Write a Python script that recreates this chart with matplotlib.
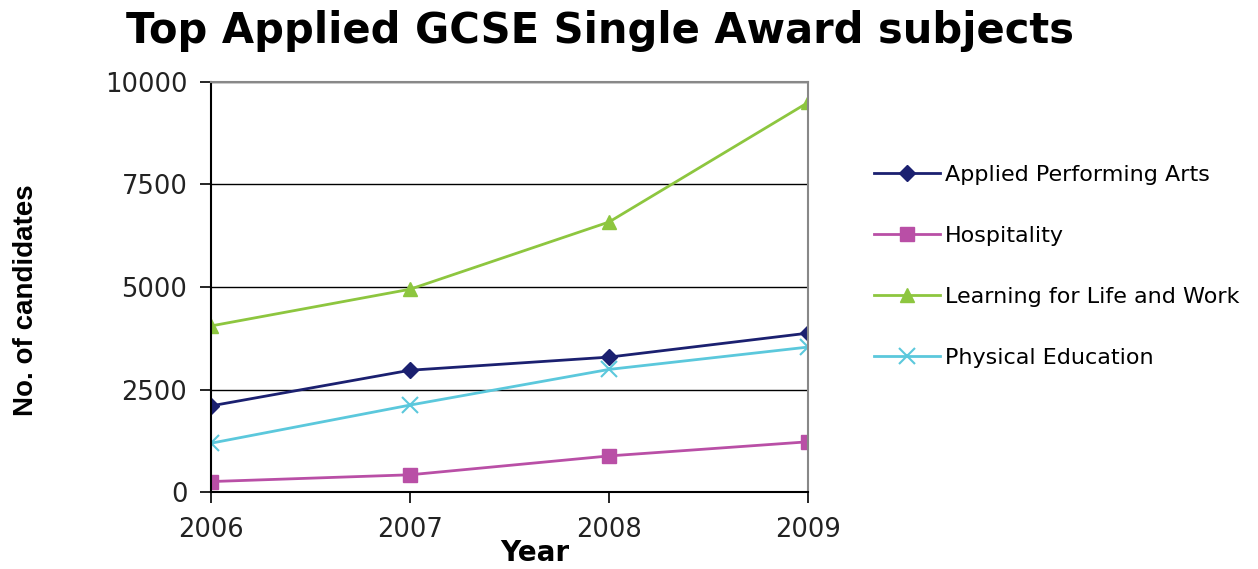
import matplotlib.pyplot as plt

years = [2006, 2007, 2008, 2009]
series_names = ["Applied Performing Arts", "Hospitality",
                "Learning for Life and Work", "Physical Education"]
perf_arts = [2100, 2970, 3290, 3875]
hospitality = [255, 420, 880, 1225]
learning = [4050, 4945, 6585, 9500]
phys_ed = [1190, 2120, 2990, 3535]

colors = ["#1b2070", "#b94fa6", "#8dc63f", "#5bc8dc"]
markers = ["D", "s", "^", "x"]
msizes = [8.5, 10, 10, 11]

fig = plt.figure(figsize=(12.58, 5.69), dpi=100)
ax = fig.add_axes([0.1677, 0.1353, 0.4746, 0.7206])

for vals, name, c, m, ms in zip([perf_arts, hospitality, learning, phys_ed],
                                series_names, colors, markers, msizes):
    ax.plot(years, vals, color=c, marker=m, markersize=ms, lw=2,
            markeredgewidth=1.5 if m == "x" else 1, label=name)

ax.set_xlim(2006, 2009)
ax.set_ylim(0, 10000)
ax.set_xticks(years)
ax.set_yticks([0, 2500, 5000, 7500, 10000])
ax.yaxis.grid(True, color="black", lw=1)
ax.set_axisbelow(True)
ax.tick_params(axis="both", labelsize=18.5, length=8, width=1.2, direction="out")
ax.tick_params(axis="y", pad=9)
ax.tick_params(axis="x", pad=10)
ax.spines["top"].set_color("#888888")
ax.spines["right"].set_color("#888888")
for s in ax.spines.values():
    s.set_linewidth(1.5)
for lab in ax.get_xticklabels() + ax.get_yticklabels():
    lab.set_color("#222222")

fig.text(0.477, 0.945, "Top Applied GCSE Single Award subjects",
         ha="center", va="center", fontsize=30, fontweight="bold")
fig.text(0.021, 0.473, "No. of candidates", rotation=90, ha="center",
         va="center", fontsize=20, fontweight="bold", family="Liberation Sans")
fig.text(0.425, 0.004, "Year", ha="center", va="bottom", fontsize=20,
         fontweight="bold")

ax.legend(loc="upper left", bbox_to_anchor=(1.095, 0.82), frameon=False,
          fontsize=16, handlelength=3.0, labelspacing=1.85,
          handletextpad=0.2, borderaxespad=0)

fig.savefig("out.png", dpi=100)
